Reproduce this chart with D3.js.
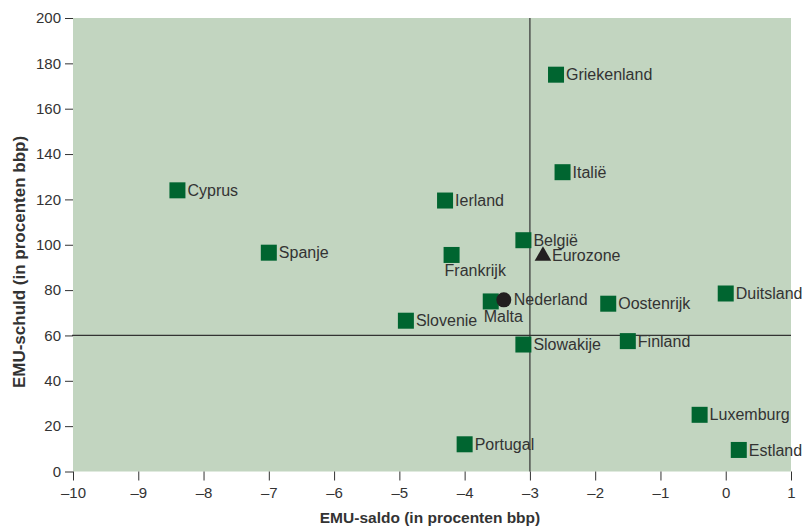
<!DOCTYPE html>
<html lang="nl">
<head>
<meta charset="UTF-8">
<title>EMU-saldo en EMU-schuld</title>
<script src="https://d3js.org/d3.v7.min.js"></script>
<style>
  body { margin: 0; background: #fff; }
  text { font-family: "Liberation Sans", Arial, sans-serif; fill: #333; }
  .tick line { stroke: #333; }
</style>
</head>
<body>
<svg id="chart" width="807" height="526"></svg>
<script>
// landen: naam, saldo, schuld
var countries = ["Griekenland", "Italië", "Cyprus", "Spanje", "Ierland", "Frankrijk", "België",
  "Malta", "Slovenie", "Oostenrijk", "Duitsland", "Slowakije", "Finland", "Luxemburg", "Estland", "Portugal"];
var saldo = [-2.6, -2.5, -8.4, -7.0, -4.3, -4.2, -3.1, -3.6, -4.9, -1.8, 0.0, -3.1, -1.5, -0.4, 0.2, -4.0];
var schuld = [175, 132, 124, 96.5, 119.5, 95.5, 102, 75, 66.5, 74, 78.5, 56, 57.5, 25, 9.5, 12];

var eurozone = { name: "Eurozone", saldo: -2.8, schuld: 95.5 };
var nederland = { name: "Nederland", saldo: -3.4, schuld: 75.7 };

var xTicks = [-10, -9, -8, -7, -6, -5, -4, -3, -2, -1, 0, 1];
var yTicks = [0, 20, 40, 60, 80, 100, 120, 140, 160, 180, 200];

var svg = d3.select("#chart");
var margin = { top: 18, right: 16, bottom: 54.5, left: 73 };
var width = 807 - margin.left - margin.right,
    height = 526 - margin.top - margin.bottom;

var x = d3.scaleLinear().domain([-10, 1]).range([0, width]);
var y = d3.scaleLinear().domain([0, 200]).range([height, 0]);

var g = svg.append("g").attr("transform", "translate(" + margin.left + "," + margin.top + ")");

g.append("rect")
  .attr("width", width).attr("height", height)
  .attr("fill", "#c2d5c0");

// referentielijnen
g.append("line")
  .attr("x1", x(-3)).attr("x2", x(-3)).attr("y1", 0).attr("y2", height)
  .attr("stroke", "#333").attr("stroke-width", 1.2);
g.append("line")
  .attr("x1", -1).attr("x2", width).attr("y1", y(60)).attr("y2", y(60))
  .attr("stroke", "#333").attr("stroke-width", 1.2);

// assen
var fmt = function (d) { return d < 0 ? "\u2013" + Math.abs(d) : d; };
var yAxis = g.append("g")
  .call(d3.axisLeft(y).tickValues(yTicks).tickSize(8).tickPadding(4));
yAxis.select(".domain").remove();
yAxis.selectAll("text").style("font-size", "15px").style("font-family", "Liberation Sans, Arial, sans-serif");

var xAxis = g.append("g")
  .attr("transform", "translate(0," + height + ")")
  .call(d3.axisBottom(x).tickValues(xTicks).tickFormat(fmt).tickSize(9).tickPadding(7));
xAxis.select(".domain").remove();
xAxis.selectAll("text").style("font-size", "15px").style("font-family", "Liberation Sans, Arial, sans-serif");

// asteksten
svg.append("text")
  .attr("x", 430).attr("y", 523)
  .attr("text-anchor", "middle")
  .style("font-size", "15.5px").style("font-weight", "bold")
  .text("EMU-saldo (in procenten bbp)");
svg.append("text")
  .attr("transform", "translate(25,262) rotate(-90)")
  .attr("text-anchor", "middle")
  .style("font-size", "17px").style("font-weight", "bold")
  .text("EMU-schuld (in procenten bbp)");

// punten
var data = countries.map(function (c, i) { return { name: c, saldo: saldo[i], schuld: schuld[i] }; });
var below = { "Frankrijk": true, "Malta": true };
var sq = 16;

g.selectAll("rect.pt")
  .data(data)
  .enter().append("rect")
  .attr("class", "pt")
  .attr("x", function (d) { return x(d.saldo) - sq / 2; })
  .attr("y", function (d) { return y(d.schuld) - sq / 2; })
  .attr("width", sq).attr("height", sq)
  .attr("fill", "#006530");

g.selectAll("text.lbl")
  .data(data)
  .enter().append("text")
  .attr("class", "lbl")
  .attr("x", function (d) { return below[d.name] ? x(d.saldo) - 7 : x(d.saldo) + 10; })
  .attr("y", function (d) { return below[d.name] ? y(d.schuld) + 21 : y(d.schuld); })
  .attr("dy", function (d) { return below[d.name] ? 0 : "0.35em"; })
  .style("font-size", "16px")
  .text(function (d) { return d.name; });

// Nederland
g.append("circle")
  .attr("cx", x(nederland.saldo)).attr("cy", y(nederland.schuld))
  .attr("r", 7.5).attr("fill", "#231f20");
g.append("text")
  .attr("x", x(nederland.saldo) + 10).attr("y", y(nederland.schuld)).attr("dy", "0.35em")
  .style("font-size", "16px").text(nederland.name);

// Eurozone
g.append("path")
  .attr("d", d3.symbol().type(d3.symbolTriangle).size(120))
  .attr("transform", "translate(" + x(eurozone.saldo) + "," + (y(eurozone.schuld) + 1) + ")")
  .attr("fill", "#231f20");
g.append("text")
  .attr("x", x(eurozone.saldo) + 9).attr("y", y(eurozone.schuld)).attr("dy", "0.35em")
  .style("font-size", "16px").text(eurozone.name);
</script>
</body>
</html>
